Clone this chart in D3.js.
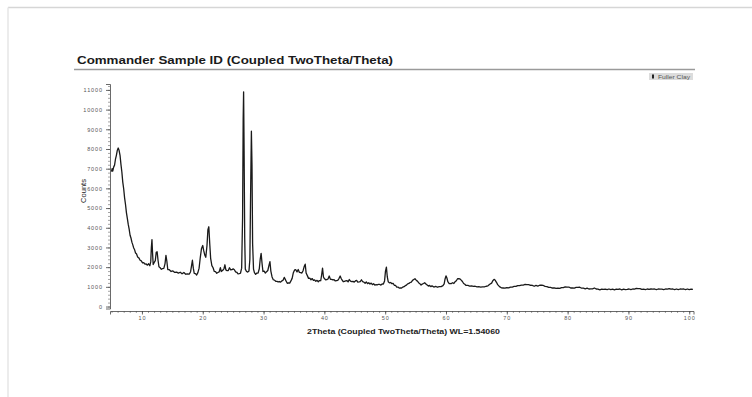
<!DOCTYPE html>
<html>
<head>
<meta charset="utf-8">
<script src="https://cdn.jsdelivr.net/npm/d3@7"></script>
<style>
  html, body { margin: 0; padding: 0; background: #fff; }
  svg { display: block; font-family: "Liberation Sans", Arial, sans-serif; }
</style>
</head>
<body>
<svg id="chart" width="752" height="397"></svg>
<script>
// Diffraction scan: 2θ positions (degrees) and detector counts
const twoTheta = [
  5.0,5.1,5.2,5.35,5.5,5.65,5.8,5.95,6.1,6.25,6.4,6.55,6.7,6.85,7.0,7.15,7.3,7.45,7.6,7.75,7.9,8.05,8.2,8.35,8.5,8.65,8.8,8.95,9.1,9.3,9.5,
  9.7,9.9,10.1,10.3,10.5,10.7,10.9,11.1,11.3,
  11.45,11.55,11.65,11.75,11.85,12.0,12.2,12.35,12.5,12.65,12.8,13.0,13.2,13.4,13.6,13.8,13.95,14.1,14.25,
  14.5,14.8,15.1,15.4,15.7,16.0,16.3,16.6,16.9,17.2,17.5,17.8,
  18.0,18.15,18.3,18.45,18.6,18.8,19.0,19.2,
  19.4,19.6,19.8,20.0,20.15,20.35,20.5,20.7,20.85,21.0,21.15,21.3,
  21.5,21.7,21.9,22.1,22.3,22.5,22.7,22.9,23.05,23.3,23.5,23.65,23.8,24.0,24.2,24.4,24.6,24.8,25.0,25.2,25.4,25.6,25.8,26.0,26.2,26.4,
  26.55,26.65,26.72,26.8,26.9,27.0,27.2,27.4,27.6,27.75,27.9,28.0,28.1,28.2,28.35,
  28.5,28.7,28.9,29.1,29.3,29.45,29.6,29.75,29.9,30.1,30.3,30.5,30.7,30.9,31.05,
  31.2,31.4,31.6,31.8,32.0,32.2,32.4,32.6,32.8,33.0,33.2,33.4,33.55,33.7,33.9,34.1,34.3,
  34.5,34.7,34.9,35.1,35.3,35.5,35.7,35.9,36.1,36.3,36.5,36.7,36.85,37.0,
  37.2,37.4,37.6,37.8,38.0,38.2,38.4,38.6,38.8,39.0,39.2,39.4,
  39.55,39.7,39.85,
  40.0,40.2,40.4,40.6,40.8,41.0,41.2,41.4,41.6,41.8,42.0,42.2,42.4,
  42.6,42.75,42.9,43.1,43.3,43.5,43.7,43.9,44.1,44.3,44.5,44.7,44.9,45.1,45.3,45.5,45.7,45.9,46.1,46.3,46.5,46.7,46.9,47.1,47.3,47.5,47.7,47.9,48.1,48.3,48.5,48.7,48.9,49.1,49.3,49.5,49.7,49.9,
  50.05,50.2,50.35,
  50.5,50.7,50.9,51.1,51.3,51.5,51.7,51.9,52.1,52.3,52.5,52.7,52.9,53.1,53.3,53.5,53.7,53.9,54.1,54.3,54.5,54.7,54.9,55.1,55.3,55.5,55.7,55.9,56.1,56.3,56.5,56.7,56.9,57.1,57.3,57.5,57.7,58.0,58.3,58.6,58.9,59.2,59.5,59.7,
  59.85,60.0,60.15,
  60.3,60.5,60.7,60.9,61.1,61.3,61.5,61.7,61.9,62.1,62.3,62.5,62.7,62.9,63.1,63.3,63.6,63.9,64.2,64.5,64.8,65.1,65.4,65.7,66.0,66.3,66.6,66.9,67.2,67.5,67.7,67.9,68.1,68.3,68.5,
  68.8,69.1,69.4,69.7,70.0,70.3,70.6,70.9,71.2,71.5,71.8,72.1,72.4,72.7,73.0,73.3,73.6,73.9,74.2,74.5,74.8,75.1,75.4,75.7,76.0,76.3,76.6,76.9,77.2,77.5,77.8,78.1,78.4,78.7,79.0,79.3,79.6,79.9,80.2,80.5,80.8,81.1,81.4,81.7,82.0,82.3,82.6,82.9,83.2,83.5,83.8,84.1,84.4,84.7,85.0,85.3,85.6,85.9,86.2,86.5,86.8,87.1,87.4,87.7,88.0,88.3,88.6,88.9,89.2,89.5,89.8,90.1,90.4,90.7,91.0,91.3,91.6,91.9,92.2,92.5,92.8,93.1,93.4,93.7,94.0,94.3,94.6,94.9,95.2,95.5,95.8,96.1,96.4,96.7,97.0,97.3,97.6,97.9,98.2,98.5,98.8,99.1,99.4,99.7,100.0,100.3,100.6
];
const counts = [
  6850,7000,6880,7080,7180,7480,7680,7930,8050,7920,7680,7220,6830,6320,5980,5520,5180,4770,4480,4170,3930,3620,3480,3270,3130,2970,2880,2720,2680,2520,2470,
  2350,2320,2220,2230,2150,2160,2100,2170,2070,
  2280,3000,3400,2700,2130,2230,2330,2750,2780,2350,2020,1970,1890,1930,1940,2180,2600,2300,1880,
  1870,1780,1810,1730,1750,1700,1740,1660,1730,1640,1660,1650,
  1770,2050,2350,1950,1680,1670,1600,1720,
  1950,2500,2950,3100,2850,2600,2500,3100,3900,4050,3200,2450,
  2080,1970,1780,1770,1690,1730,1760,1970,1780,1840,1930,2120,1860,1820,1830,1970,1860,1870,1910,1870,1760,1740,1660,1670,1690,1950,
  4500,9500,10900,8000,3500,1900,1780,1750,1800,2400,6500,8900,7200,3200,1900,
  1720,1630,1700,1700,1920,2400,2700,2200,1780,1800,1700,1770,1830,2100,2280,
  1800,1500,1360,1340,1280,1280,1250,1270,1240,1300,1330,1480,1390,1300,1180,1200,1190,
  1300,1430,1720,1860,1870,1760,1880,1730,1720,1700,1820,2050,2150,1700,
  1570,1430,1440,1360,1420,1330,1350,1280,1330,1260,1320,1310,
  1600,1950,1500,
  1420,1360,1370,1400,1550,1380,1380,1350,1360,1300,1320,1330,1420,
  1550,1440,1350,1260,1280,1300,1320,1250,1370,1290,1270,1280,1240,1300,1330,1240,1250,1270,1360,1260,1240,1180,1250,1160,1210,1140,1190,1110,1160,1090,1110,1100,1130,1120,1090,1150,1140,1300,
  1800,2000,1500,
  1260,1200,1220,1160,1180,1080,1070,990,990,940,950,940,990,1010,1060,1090,1150,1170,1220,1240,1330,1370,1410,1340,1290,1210,1160,1090,1140,1170,1210,1140,1090,1040,1070,1010,1050,990,1020,980,1010,1010,1060,1150,
  1400,1560,1450,
  1260,1170,1160,1170,1210,1170,1260,1310,1410,1410,1400,1340,1270,1170,1130,1070,1070,1040,1050,1020,1030,1000,1010,990,1000,1000,1030,1050,1130,1190,1310,1380,1330,1230,1110,
  1010,950,940,930,960,950,990,990,1020,1020,1060,1060,1090,1090,1120,1110,1110,1080,1070,1030,1070,1040,1080,1080,1070,1020,1010,970,970,940,950,920,930,920,960,960,1000,990,990,940,940,930,970,970,980,930,930,900,930,890,900,900,940,890,880,850,880,870,880,860,890,860,880,850,880,870,890,850,880,860,870,890,860,890,880,920,910,910,870,880,860,890,870,890,880,890,860,890,880,880,860,890,880,910,880,890,860,890,860,890,880,890,860,890,860,880,870
];
const yTickValues = [0,1000,2000,3000,4000,5000,6000,7000,8000,9000,10000,11000];
const xTickValues = [10,20,30,40,50,60,70,80,90,100];

const titleText = "Commander Sample ID (Coupled TwoTheta/Theta)";
const xLabelText = "2Theta (Coupled TwoTheta/Theta) WL=1.54060";
const yLabelText = "Counts";
const legendText = "Fuller Clay";

const svg = d3.select("#chart");

// thin page frame
svg.append("line").attr("x1", 8).attr("x2", 752).attr("y1", 7.5).attr("y2", 7.5)
  .attr("stroke", "#d6d6d6").attr("stroke-width", 1.5);
svg.append("line").attr("x1", 8).attr("x2", 8).attr("y1", 7.5).attr("y2", 397)
  .attr("stroke", "#e6e6e6").attr("stroke-width", 1.5);

const x = d3.scaleLinear().domain([4.75, 100.7]).range([110, 693.5]);
const y = d3.scaleLinear().domain([-100, 11300]).range([308.5, 84]);

// title and rule beneath it
svg.append("text").attr("x", 77).attr("y", 64)
  .attr("font-size", 11.5).attr("fill", "#1a1a1a").attr("font-weight", 600)
  .attr("textLength", 316).attr("lengthAdjust", "spacingAndGlyphs")
  .text(titleText);
svg.append("line").attr("x1", 74).attr("x2", 695).attr("y1", 69.5).attr("y2", 69.5)
  .attr("stroke", "#9a9a9a").attr("stroke-width", 1.5);

// legend chip
const leg = svg.append("g").attr("transform", "translate(649,73)");
leg.append("rect").attr("width", 44).attr("height", 7).attr("fill", "#dcdcdc");
leg.append("rect").attr("x", 3).attr("y", 1.5).attr("width", 2).attr("height", 4).attr("fill", "#222");
leg.append("text").attr("x", 9).attr("y", 5.8).attr("font-size", 5).attr("fill", "#555")
  .attr("textLength", 32).attr("lengthAdjust", "spacingAndGlyphs").text(legendText);

// y axis: minor and major ticks
const yMinor = d3.range(0, 11301, 200);
svg.append("g").attr("transform", "translate(110,0)")
  .call(d3.axisLeft(y).tickValues(yMinor).tickSize(2).tickFormat(""))
  .call(g => g.select(".domain").remove())
  .call(g => g.selectAll("line").attr("stroke", "#666").attr("stroke-width", 0.6));
const yAxis = svg.append("g").attr("transform", "translate(110,0)")
  .call(d3.axisLeft(y).tickValues(yTickValues).tickSize(4).tickPadding(3).tickFormat(d3.format("d")));
yAxis.select(".domain").attr("stroke", "#444").attr("stroke-width", 0.8);
yAxis.selectAll("line").attr("stroke", "#444").attr("stroke-width", 0.8);
yAxis.selectAll("text").attr("font-size", 5.5).attr("fill", "#555").attr("letter-spacing", 0.9)
  .attr("font-family", "Liberation Sans, Arial, sans-serif");

// x axis: minor and major ticks
const xMinor = d3.range(5, 101, 1);
svg.append("g").attr("transform", "translate(0,311)")
  .call(d3.axisBottom(x).tickValues(xMinor).tickSize(2).tickFormat(""))
  .call(g => g.select(".domain").remove())
  .call(g => g.selectAll("line").attr("stroke", "#666").attr("stroke-width", 0.6));
const xAxis = svg.append("g").attr("transform", "translate(0,311)")
  .call(d3.axisBottom(x).tickValues(xTickValues).tickSize(3.5).tickPadding(2).tickFormat(d3.format("d")));
xAxis.select(".domain").attr("stroke", "#444").attr("stroke-width", 0.8);
xAxis.selectAll("line").attr("stroke", "#444").attr("stroke-width", 0.8);
xAxis.selectAll("text").attr("font-size", 5.5).attr("fill", "#555").attr("letter-spacing", 0.9)
  .attr("font-family", "Liberation Sans, Arial, sans-serif");

// axis titles
svg.append("text").attr("x", 307).attr("y", 334)
  .attr("font-size", 7.8).attr("font-weight", 600).attr("fill", "#222")
  .attr("textLength", 193).attr("lengthAdjust", "spacingAndGlyphs").text(xLabelText);
svg.append("text").attr("transform", "translate(86,191) rotate(-90)").attr("text-anchor", "middle")
  .attr("font-size", 7.5).attr("fill", "#222").text(yLabelText);

// diffraction trace
const pts = twoTheta.map((t, i) => [t, counts[i]]);
const line = d3.line().x(d => x(d[0])).y(d => y(d[1]));
svg.append("path").datum(pts).attr("d", line)
  .attr("fill", "none").attr("stroke", "#1a1a1a").attr("stroke-width", 1.3)
  .attr("stroke-linejoin", "round");
</script>
</body>
</html>
